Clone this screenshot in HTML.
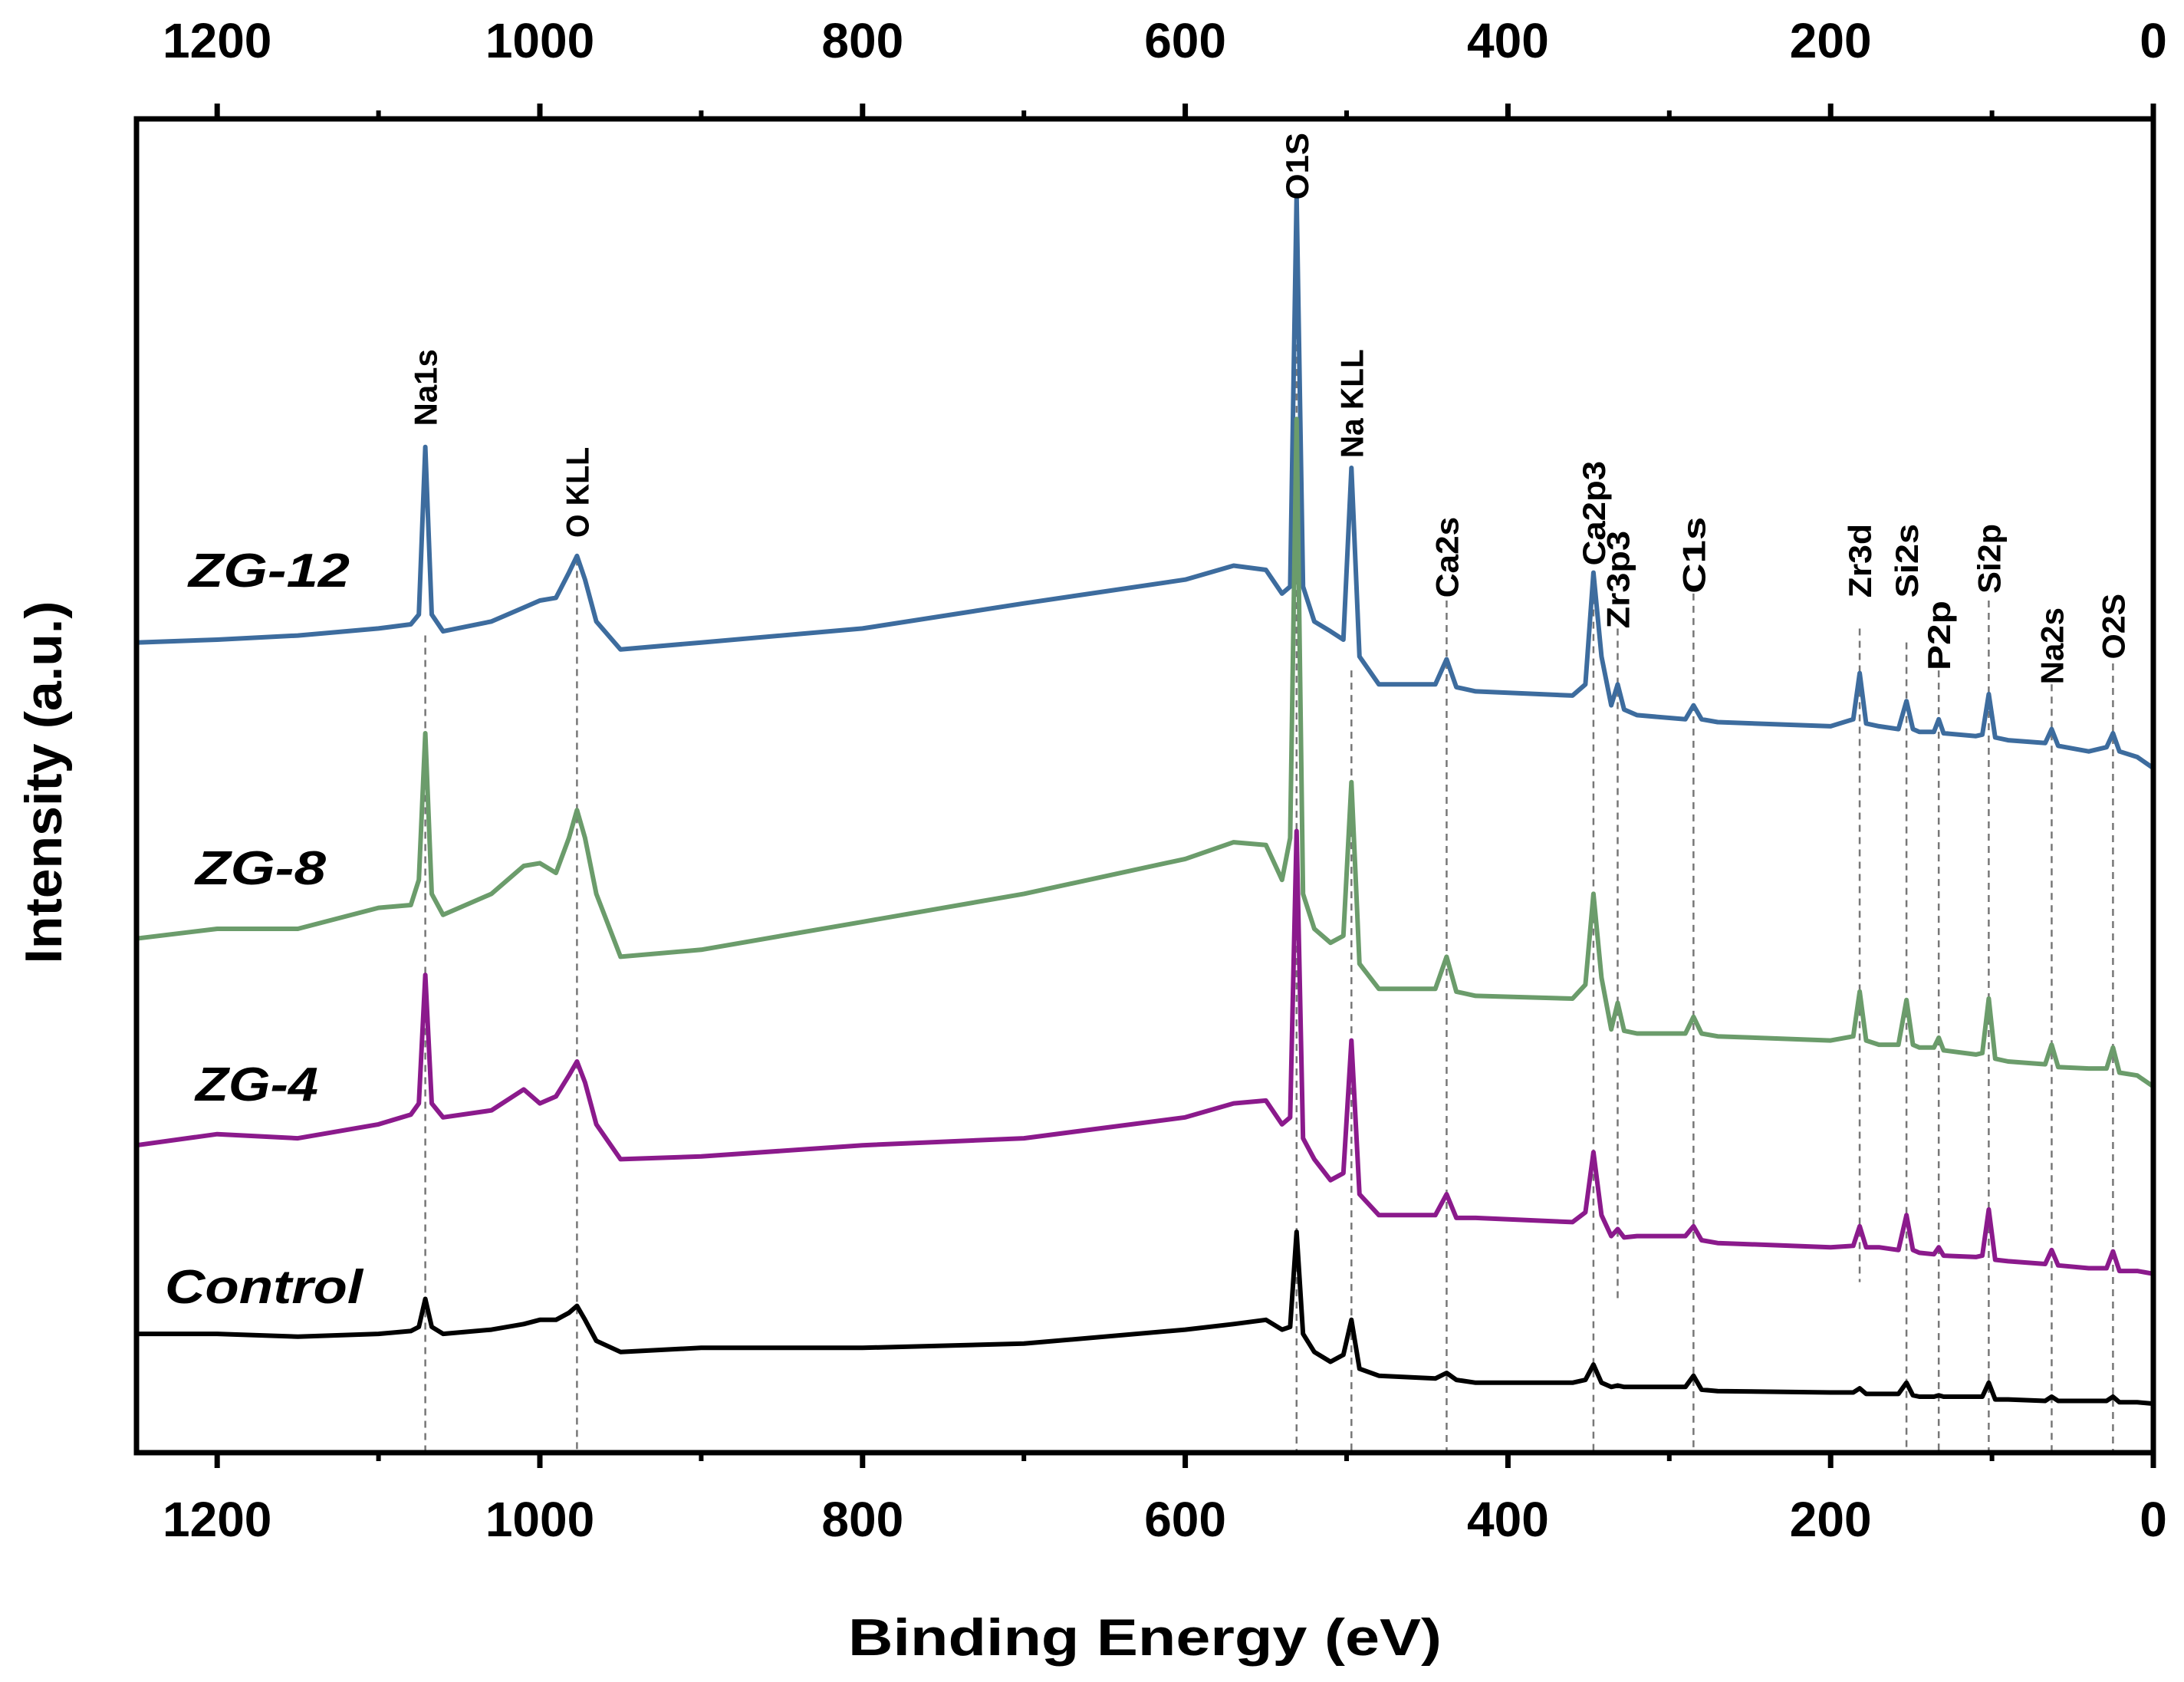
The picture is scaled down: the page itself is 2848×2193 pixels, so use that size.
<!DOCTYPE html>
<html><head><meta charset="utf-8"><style>
html,body{margin:0;padding:0;background:#fff}
svg{display:block}
text{font-family:"Liberation Sans",sans-serif;font-weight:bold}
</style></head><body>
<svg id="chart" width="2848" height="2193" viewBox="0 0 2848 2193" xmlns="http://www.w3.org/2000/svg">
<g id="refs"></g>
<g id="series"></g>
<g id="peaklabels"></g>
<g id="axes"></g>
<text x="1493" y="2158" font-size="68" text-anchor="middle" textLength="774" lengthAdjust="spacingAndGlyphs">Binding Energy (eV)</text>
<text transform="translate(80,1020) rotate(-90)" font-size="68" text-anchor="middle" textLength="473" lengthAdjust="spacingAndGlyphs">Intensity (a.u.)</text>
</svg>
<script>
// Binding energies (eV) sampled
const energies=[1250,1200,1150,1100,1080,1075,1071,1067,1060,1030,1010,1000,990,982,977,972,965,950,900,800,700,600,570,550,540,535,531,527,520,510,502,497,492,480,445,438,432,420,360,352,347,342,336,332,328,320,290,285,280,270,200,186,182,178,170,158,153,149,145,136,133,130,110,106,102,98,90,67,63,59,40,29,25,21,10,0];
// Values measured as depth from top (a.u., larger = lower on plot)
const zg12=[460,458,455,450,447,440,320,440,452,445,435,430,428,410,398,415,445,465,460,450,432,415,405,408,425,420,140,420,445,452,458,335,470,490,490,472,492,495,498,490,410,470,505,490,508,512,515,505,515,517,520,515,482,518,520,522,502,522,524,524,515,525,527,526,497,528,530,532,522,534,538,535,525,538,542,550];
const zg8=[672,665,665,650,648,630,525,640,655,640,620,618,625,600,580,600,640,685,680,660,640,615,603,605,630,600,300,640,665,675,670,560,690,708,708,685,710,713,715,705,640,700,737,718,738,740,740,728,740,742,745,742,710,745,748,748,716,748,750,750,743,752,755,754,715,758,760,762,748,764,765,765,750,768,770,778];
const zg4=[820,812,815,805,798,790,698,790,800,795,780,790,785,770,760,775,805,830,828,820,815,800,790,788,805,800,595,815,830,845,840,745,855,870,870,855,872,872,875,868,825,870,885,880,886,885,885,878,888,890,893,892,878,893,893,895,870,895,897,898,893,899,900,899,866,902,903,905,895,906,908,908,896,910,910,912];
const control=[955,955,957,955,953,950,930,950,955,952,948,945,945,940,935,945,960,968,965,965,962,952,948,945,952,950,882,955,968,975,970,945,980,985,987,983,988,990,990,988,977,990,993,992,993,993,993,985,995,996,997,997,994,998,998,998,990,999,1000,1000,999,1000,1000,1000,990,1002,1002,1003,1000,1003,1003,1003,1000,1004,1004,1005];
const seriesNames=["ZG-12","ZG-8","ZG-4","Control"];
const peakNames=["Na1s","O KLL","O1S","Na KLL","Ca2s","Ca2p3","Zr3p3","C1s","Zr3d","Si2s","P2p","Si2p","Na2s","O2S"];
const peakEnergies=[1071,977,531,497,438,347,332,285,182,153,133,102,63,25];
const xTicks=[0,200,400,600,800,1000,1200];
const minorTicks=[100,300,500,700,900,1100];

const NS="http://www.w3.org/2000/svg";
const L=178,R=2808,T=155,B=1894;
function X(e){return L+(1250-e)/1250*(R-L);}
function Y(v){return v*1.821;}
function mk(tag,attrs,parent){const el=document.createElementNS(NS,tag);for(const k in attrs)el.setAttribute(k,attrs[k]);parent.appendChild(el);return el;}

const refTop=[455,400,150,480,430,410,450,425,450,460,480,430,490,475];
const refBot=[1040,1040,1040,1040,1040,1040,930,1040,918,1040,1040,1040,1040,1040];
const refs=document.getElementById('refs');
peakEnergies.forEach((e,i)=>{
  const l=mk('line',{x1:X(e),x2:X(e),y1:Y(refTop[i]),y2:Y(refBot[i]),stroke:'#777','stroke-width':2.5,'stroke-dasharray':'9,7'},refs);
  
  
});

const sg=document.getElementById('series');
const data=[zg12,zg8,zg4,control];
const colors=['#3d6c9e','#6b9c6b','#8b1a8c','#000'];
data.forEach((vals,si)=>{
  const d=energies.map((e,i)=>(i?'L':'M')+X(e).toFixed(1)+','+Y(vals[i]).toFixed(1)).join(' ');
  const p=mk('path',{d:d,fill:'none',stroke:colors[si],'stroke-width':6,'stroke-linejoin':'round'},sg);
  
  
});
const lblX=[246,255,255,215],lblY=[765,1153,1435,1699],lblW=[210,170,160,258];
seriesNames.forEach((n,i)=>{
  const t=mk('text',{x:lblX[i],y:lblY[i],'font-size':62,'font-style':'italic',textLength:lblW[i],lengthAdjust:'spacingAndGlyphs'},sg);
  t.textContent=n;
  
  
});

const plBottom=[305,385,143,328,428,405,450,425,428,428,480,425,490,472];
const plLen=[55,65,48,78,58,75,70,55,53,53,50,50,55,47];
const pl=document.getElementById('peaklabels');
peakEnergies.forEach((e,i)=>{
  const t=mk('text',{transform:'translate('+(X(e)+15)+','+Y(plBottom[i])+') rotate(-90)','font-size':42,textLength:Y(plLen[i]),lengthAdjust:'spacingAndGlyphs'},pl);
  t.textContent=peakNames[i];
  
  
});

const ax=document.getElementById('axes');
const fr=mk('rect',{x:L,y:T,width:R-L,height:B-T,fill:'none',stroke:'#000','stroke-width':7},ax);


xTicks.forEach(v=>{
  const x=X(v);
  const t1=mk('line',{x1:x,x2:x,y1:T,y2:T-20,stroke:'#000','stroke-width':7},ax);
  
  
  const t2=mk('line',{x1:x,x2:x,y1:B,y2:B+20,stroke:'#000','stroke-width':7},ax);
  
  
  const a=mk('text',{x:x,y:75,'font-size':64,'text-anchor':'middle'},ax);
  a.textContent=v;
  
  
  const b=mk('text',{x:x,y:2003,'font-size':64,'text-anchor':'middle'},ax);
  b.textContent=v;
  
  
});
minorTicks.forEach(v=>{
  const x=X(v);
  const t1=mk('line',{x1:x,x2:x,y1:T,y2:T-11,stroke:'#000','stroke-width':6},ax);
  
  
  const t2=mk('line',{x1:x,x2:x,y1:B,y2:B+11,stroke:'#000','stroke-width':6},ax);
  
  
});
</script>
</body></html>
